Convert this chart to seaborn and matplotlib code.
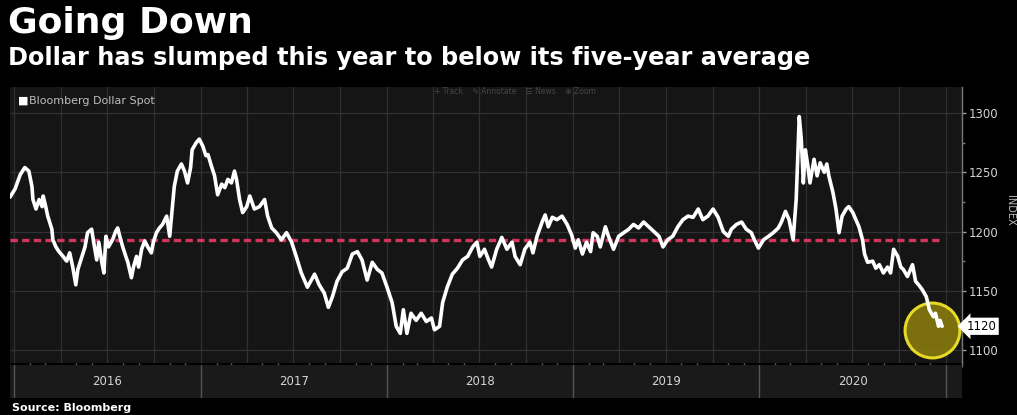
import matplotlib
matplotlib.use("Agg")
import matplotlib.pyplot as plt
import matplotlib.dates as mdates
import matplotlib.transforms as mtransforms
from matplotlib.ticker import MultipleLocator
import pandas as pd
import seaborn as sns

# Bloomberg Dollar Spot index, read roughly twice a month
dates = [
    "2015-12-24", "2016-01-03", "2016-01-13", "2016-01-22", "2016-01-30", "2016-02-05", "2016-02-07",
    "2016-02-13", "2016-02-19", "2016-02-25", "2016-02-27", "2016-03-03", "2016-03-07", "2016-03-15",
    "2016-03-17", "2016-03-23", "2016-03-29", "2016-04-06", "2016-04-13", "2016-04-19", "2016-04-25",
    "2016-05-01", "2016-05-05", "2016-05-13", "2016-05-19", "2016-05-24", "2016-06-01", "2016-06-05",
    "2016-06-11", "2016-06-15", "2016-06-21", "2016-06-25", "2016-06-29", "2016-07-04", "2016-07-12",
    "2016-07-18", "2016-07-22", "2016-07-28", "2016-08-01", "2016-08-07", "2016-08-11", "2016-08-18",
    "2016-08-22", "2016-08-28", "2016-09-01", "2016-09-07", "2016-09-13", "2016-09-19", "2016-09-26",
    "2016-09-30", "2016-10-06", "2016-10-12", "2016-10-18", "2016-10-26", "2016-11-01", "2016-11-06",
    "2016-11-10", "2016-11-16", "2016-11-24", "2016-11-30", "2016-12-06", "2016-12-12", "2016-12-15",
    "2016-12-23", "2016-12-29",
    "2017-01-05", "2017-01-11", "2017-01-15", "2017-01-22", "2017-01-28", "2017-02-03", "2017-02-11",
    "2017-02-17", "2017-02-23", "2017-03-02", "2017-03-08", "2017-03-12", "2017-03-18", "2017-03-24",
    "2017-04-01", "2017-04-07", "2017-04-16", "2017-04-26", "2017-05-06", "2017-05-12", "2017-05-20",
    "2017-05-29", "2017-06-08", "2017-06-18", "2017-06-28", "2017-07-07", "2017-07-17", "2017-07-29",
    "2017-08-12", "2017-08-21", "2017-08-31", "2017-09-08", "2017-09-16", "2017-09-25", "2017-10-05",
    "2017-10-15", "2017-10-25", "2017-11-04", "2017-11-13", "2017-11-23", "2017-12-03", "2017-12-13",
    "2017-12-22",
    "2018-01-01", "2018-01-11", "2018-01-19", "2018-01-27", "2018-02-02", "2018-02-09", "2018-02-17",
    "2018-02-27", "2018-03-09", "2018-03-19", "2018-03-29", "2018-04-04", "2018-04-14", "2018-04-20",
    "2018-04-29", "2018-05-09", "2018-05-19", "2018-05-29", "2018-06-08", "2018-06-18", "2018-06-26",
    "2018-07-02", "2018-07-11", "2018-07-19", "2018-07-25", "2018-08-04", "2018-08-14", "2018-08-24",
    "2018-09-03", "2018-09-09", "2018-09-19", "2018-09-28", "2018-10-08", "2018-10-14", "2018-10-22",
    "2018-11-01", "2018-11-07", "2018-11-13", "2018-11-21", "2018-11-30", "2018-12-10", "2018-12-20",
    "2018-12-29",
    "2019-01-05", "2019-01-11", "2019-01-19", "2019-01-27", "2019-02-04", "2019-02-09", "2019-02-17",
    "2019-02-23", "2019-03-05", "2019-03-11", "2019-03-21", "2019-03-31", "2019-04-10", "2019-04-20",
    "2019-04-29", "2019-05-09", "2019-05-19", "2019-05-29", "2019-06-08", "2019-06-18", "2019-06-26",
    "2019-07-05", "2019-07-15", "2019-07-25", "2019-08-04", "2019-08-14", "2019-08-24", "2019-09-03",
    "2019-09-12", "2019-09-22", "2019-10-02", "2019-10-12", "2019-10-22", "2019-11-01", "2019-11-07",
    "2019-11-17", "2019-11-27", "2019-12-06", "2019-12-16", "2019-12-22", "2019-12-30",
    "2020-01-09", "2020-01-19", "2020-01-28", "2020-02-07", "2020-02-13", "2020-02-21", "2020-02-28",
    "2020-03-07", "2020-03-13", "2020-03-19", "2020-03-23", "2020-03-27", "2020-03-31", "2020-04-05",
    "2020-04-09", "2020-04-17", "2020-04-23", "2020-04-29", "2020-05-07", "2020-05-12", "2020-05-16",
    "2020-05-24", "2020-05-30", "2020-06-05", "2020-06-11", "2020-06-19", "2020-06-24", "2020-07-02",
    "2020-07-08", "2020-07-14", "2020-07-21", "2020-07-25", "2020-07-31", "2020-08-10", "2020-08-16",
    "2020-08-23", "2020-08-31", "2020-09-08", "2020-09-14", "2020-09-20", "2020-09-28", "2020-10-04",
    "2020-10-09", "2020-10-17", "2020-10-27", "2020-11-02", "2020-11-08", "2020-11-15", "2020-11-23",
    "2020-11-29", "2020-12-07", "2020-12-11", "2020-12-17", "2020-12-20", "2020-12-24",
]
values = [
    1229, 1236, 1248, 1254, 1251, 1238, 1227,
    1219, 1227, 1221, 1230, 1221, 1213, 1202,
    1193, 1187, 1183, 1179, 1175, 1182, 1170,
    1155, 1168, 1179, 1187, 1199, 1202, 1191,
    1176, 1191, 1174, 1165, 1196, 1187, 1193,
    1200, 1203, 1193, 1187, 1179, 1174, 1161,
    1170, 1179, 1170, 1185, 1192, 1187, 1182,
    1191, 1199, 1203, 1206, 1213, 1196, 1219,
    1238, 1251, 1257, 1251, 1241, 1254, 1269,
    1275, 1278,
    1272, 1264, 1265, 1255, 1247, 1231, 1240,
    1237, 1244, 1241, 1251, 1244, 1227, 1216,
    1221, 1230, 1219, 1221, 1227, 1213, 1203,
    1199, 1193, 1199, 1191, 1179, 1165, 1153,
    1164, 1155, 1148, 1136, 1145, 1158, 1166,
    1169, 1181, 1183, 1176, 1159, 1174, 1168,
    1165,
    1153, 1140, 1120, 1114, 1134, 1114, 1131,
    1125, 1131, 1124, 1127, 1117, 1120, 1140,
    1153, 1164, 1169, 1176, 1179, 1187, 1191,
    1179, 1185, 1176, 1170, 1185, 1195, 1185,
    1191, 1179, 1172, 1185, 1191, 1182, 1196,
    1208, 1214, 1204, 1212, 1210, 1213, 1206,
    1197,
    1186, 1193, 1181, 1191, 1183, 1199, 1196,
    1187, 1204, 1196, 1185, 1196, 1199, 1202,
    1206, 1203, 1208, 1204, 1200, 1196, 1187,
    1193, 1196, 1204, 1210, 1213, 1212, 1219,
    1210, 1213, 1219, 1212, 1200, 1196, 1202,
    1206, 1208, 1202, 1199, 1193, 1186,
    1193, 1196, 1199, 1203, 1208, 1217, 1210,
    1193, 1227, 1297, 1278, 1241, 1269, 1255,
    1241, 1261, 1247, 1258, 1250, 1257, 1247,
    1233, 1219, 1199, 1213, 1219, 1221, 1216,
    1210, 1204, 1193, 1181, 1174, 1175, 1169,
    1172, 1165, 1170, 1165, 1185, 1179, 1170,
    1168, 1162, 1172, 1158, 1155, 1151, 1145,
    1134, 1128, 1131, 1120, 1125, 1120,
]
five_year_avg = 1193
years = [2016, 2017, 2018, 2019, 2020]
y_ticks = [1100, 1150, 1200, 1250, 1300]

title = "Going Down"
subtitle = "Dollar has slumped this year to below its five-year average"
series_name = "Bloomberg Dollar Spot"
source = "Source: Bloomberg"

sns.set_theme(style="dark")
plt.rcParams["font.family"] = ["DejaVu Sans"]

FIG_BG = "#000000"
PANEL_BG = "#151515"
BAND_BG = "#1a1a1a"
GRID = "#303030"
TEXT = "#d4d4d4"

W, H = 1017, 415
fig = plt.figure(figsize=(W / 100, H / 100), dpi=100, facecolor=FIG_BG)
ax = fig.add_axes([10 / W, 52 / H, 952 / W, 276 / H])
band = fig.add_axes([10 / W, 17 / H, 952 / W, 33 / H])

df = pd.DataFrame({"date": pd.to_datetime(dates), "value": values})
x_min, x_max = pd.Timestamp("2015-12-24"), pd.Timestamp("2021-02-01")

# main panel
ax.set_facecolor(PANEL_BG)
sns.lineplot(data=df, x="date", y="value", ax=ax, color="white", lw=2.6,
             zorder=5, legend=False)
ax.hlines(five_year_avg, df["date"].iloc[0], df["date"].iloc[-1],
          colors="#d3365c", linestyles=(0, (2.2, 1.3)), lw=2.4, zorder=3)

# highlight ring around the latest reading
ring_date = df["date"].iloc[-1] - pd.Timedelta(days=19)
ring_value = df["value"].iloc[-1] - 3
ax.scatter([ring_date], [ring_value], s=1560, facecolor=(0.56, 0.50, 0.05, 0.85),
           edgecolor="#e6da26", linewidth=2.2, zorder=4, clip_on=False)

ax.set_xlim(x_min, x_max)
ax.set_ylim(1089, 1322)
ax.set_xlabel("")
ax.set_ylabel("")

ax.xaxis.set_major_locator(mdates.MonthLocator(bymonth=[1, 4, 7, 10]))
ax.xaxis.set_minor_locator(mdates.MonthLocator())
ax.tick_params(axis="x", which="major", length=0, labelbottom=False)
ax.tick_params(axis="x", which="minor", length=3, width=1, color="#6a6a6a",
               direction="out", bottom=True)

ax.yaxis.tick_right()
ax.set_yticks(y_ticks)
ax.set_yticklabels([str(v) for v in y_ticks])
ax.yaxis.set_minor_locator(MultipleLocator(25))
ax.tick_params(axis="y", which="major", right=True, left=False, length=3, width=1,
               color="#9a9a9a", labelcolor=TEXT, labelsize=8.5, pad=2)
ax.tick_params(axis="y", which="minor", right=True, left=False, length=2, width=1,
               color="#777777")

ax.grid(True, which="major", axis="both", color=GRID, lw=0.9)
ax.grid(False, which="minor")
for side in ("top", "left", "bottom"):
    ax.spines[side].set_visible(False)
ax.spines["right"].set_visible(True)
ax.spines["right"].set_color("#7a7a7a")
ax.spines["right"].set_linewidth(1)

# last value tag on the axis
tag_tr = mtransforms.blended_transform_factory(ax.transAxes, ax.transData)
ax.text(1.005, values[-1], f"{values[-1]}", transform=tag_tr, ha="left", va="center",
        fontsize=8.5, color="black", zorder=6,
        bbox=dict(boxstyle="larrow,pad=0.18", fc="white", ec="none"))

# year band under the chart
band.set_facecolor(BAND_BG)
band.set_xlim(x_min, x_max)
band.set_ylim(0, 1)
band.grid(False)
band.tick_params(which="both", length=0, labelbottom=False, labelleft=False)
for side in band.spines:
    band.spines[side].set_visible(False)
for yr in years + [years[-1] + 1]:
    band.axvline(pd.Timestamp(f"{yr}-01-01"), color="#555555", lw=1)
for yr in years:
    band.text(pd.Timestamp(f"{yr}-07-02"), 0.5, str(yr), ha="center", va="center",
              fontsize=8.5, color=TEXT)

# titles and labels
fig.text(8 / W, 1 - 6 / H, title, ha="left", va="top", fontsize=26,
         fontweight="bold", color="white")
fig.text(8 / W, 1 - 46 / H, subtitle, ha="left", va="top", fontsize=17.3,
         fontweight="bold", color="white")
fig.text(18 / W, 1 - 101 / H, "\u25a0", ha="left", va="center", fontsize=8,
         color="white")
fig.text(29 / W, 1 - 101 / H, series_name, ha="left", va="center", fontsize=8,
         color="#bdbdbd")
fig.text(515 / W, 1 - 91 / H, "+ Track    \u270e Annotate    \u2630 News    \u2295 Zoom",
         ha="center", va="center", fontsize=5.5, color="#474747")
fig.text(1010 / W, 1 - 210 / H, "INDEX", rotation=270, ha="center", va="center",
         fontsize=7, color="#bdbdbd")
fig.text(12 / W, 1 - 408 / H, source, ha="left", va="center", fontsize=8,
         fontweight="bold", color="white")

fig.savefig("out.png", dpi=100, facecolor=FIG_BG)
